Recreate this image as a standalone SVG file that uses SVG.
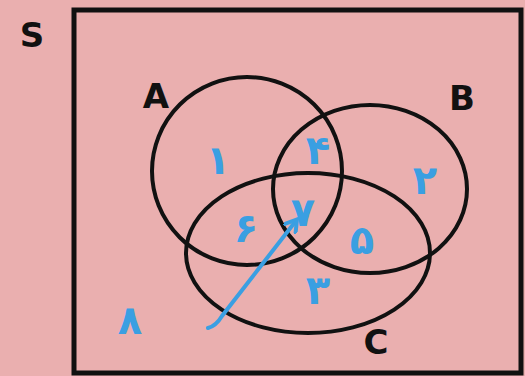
<svg xmlns="http://www.w3.org/2000/svg" width="525" height="376" viewBox="0 0 525 376">
<defs>
<style>
.set{fill:none;stroke:#111;stroke-width:4}
.lbl{font-family:"DejaVu Sans","Liberation Sans",sans-serif;font-size:34px;fill:#111;text-anchor:middle;font-weight:bold}
.num{font-family:"DejaVu Sans",sans-serif;font-size:40px;fill:#3A9FE2;font-weight:bold;text-anchor:middle}
.arrow{fill:none;stroke:#3A9FE2;stroke-width:4;stroke-linecap:round}
</style>
<marker id="ah" viewBox="0 0 10 10" refX="6" refY="5" markerWidth="4" markerHeight="4" orient="auto">
<path d="M0,0 L8,5 L0,10" fill="none" stroke="#3A9FE2" stroke-width="2.5"/>
</marker>
</defs>
<rect x="0" y="0" width="525" height="376" fill="#EAAFAF"/>
<g id="S">
<rect x="74" y="10" width="447" height="363" fill="#EAAFAF" stroke="#111" stroke-width="5"/>
<text class="lbl" x="32" y="47">S</text>
</g>
<g id="A">
<ellipse class="set" cx="247" cy="171" rx="95" ry="94"/>
<text class="lbl" x="156" y="108">A</text>
</g>
<g id="B">
<ellipse class="set" cx="370" cy="189" rx="97" ry="84"/>
<text class="lbl" x="462" y="110">B</text>
</g>
<g id="C">
<ellipse class="set" cx="308" cy="253" rx="122" ry="80"/>
<text class="lbl" x="376" y="354">C</text>
</g>
<g id="regions">
<text class="num" x="218" y="174">۱</text>
<text class="num" x="318" y="164">۴</text>
<text class="num" x="425" y="194">۲</text>
<text class="num" x="246" y="242">۶</text>
<text class="num" x="303" y="226">۷</text>
<text class="num" x="362" y="254">۵</text>
<text class="num" x="318" y="304">۳</text>
<text class="num" x="130" y="334">۸</text>
</g>
<g id="connectors">
<path class="arrow" d="M208,328 Q216,326 222,316 L295,222" marker-end="url(#ah)"/>
</g>
</svg>
